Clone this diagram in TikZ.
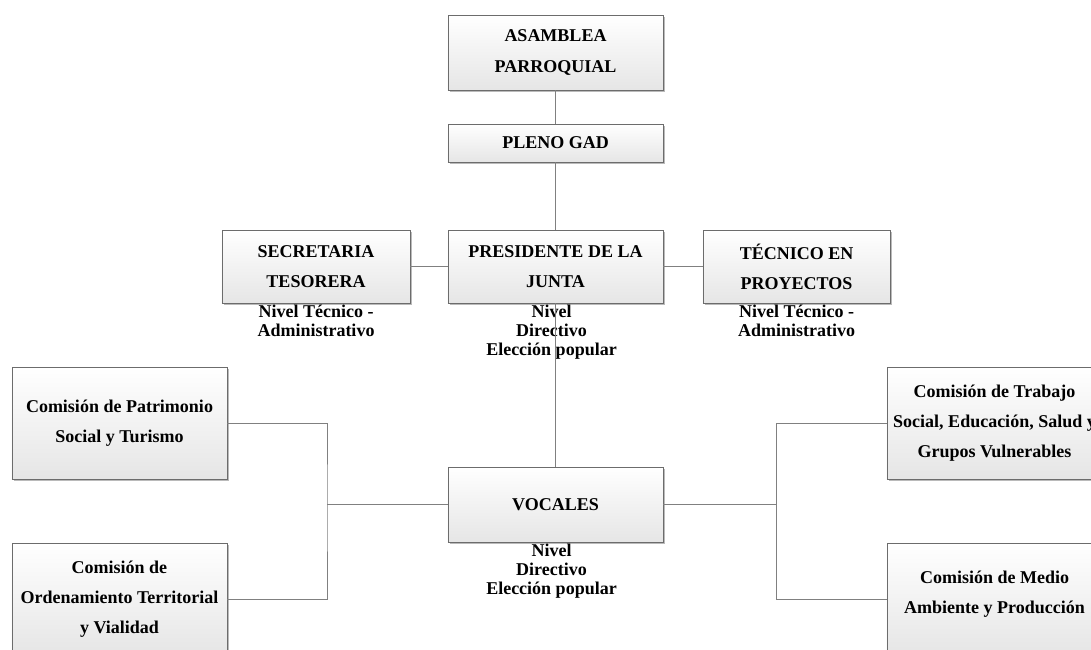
\documentclass[tikz,border=0pt]{standalone}
\usepackage{fontspec}
\setmainfont{Liberation Serif}
\usetikzlibrary{positioning,shadows}

\begin{document}
\begin{tikzpicture}[x=0.025cm, y=-0.025cm,
	box/.style={draw=gray!85!black, top color=white, bottom color=black!10,
		minimum width=5.375cm, minimum height=1.875cm, align=center, inner sep=2pt,
		font=\fontsize{12.8}{21.5}\selectfont\bfseries,
		drop shadow={shadow xshift=1.3pt, shadow yshift=-1.3pt, fill=black!45, opacity=0.6}},
	lvl/.style={align=center, inner sep=1pt, font=\fontsize{12.8}{13.6}\selectfont\bfseries},
	con/.style={draw=gray, line width=0.6pt}
]
	\clip (0,0) rectangle (1091,650);

	% Top levels
	\node[box] (asamblea) at (555.5, 52.5) {ASAMBLEA\\PARROQUIAL};
	\node[box, minimum height=0.95cm] (pleno) at (555.5, 143) {PLENO GAD};

	% Directive level
	\node[box, minimum width=4.7cm, minimum height=1.825cm] (secretaria) at (316, 266.5)
		{SECRETARIA\\TESORERA};
	\node[box, minimum height=1.825cm] (presidente) at (555.5, 266.5)
		{PRESIDENTE DE LA\\JUNTA};
	\node[box, minimum width=4.675cm, minimum height=1.825cm] (tecnico) at (796.5, 266.5)
		{TÉCNICO EN\\PROYECTOS};

	\node[lvl, anchor=north] (secnivel) at (secretaria.south) {Nivel Técnico -\\Administrativo};
	\node[lvl, anchor=north] (presnivel) at ([xshift=-0.1cm]presidente.south)
		{Nivel\\Directivo\\Elección popular};
	\node[lvl, anchor=north] (tecnivel) at (tecnico.south) {Nivel Técnico -\\Administrativo};

	% Vocales
	\node[box] (vocales) at (555.5, 504.5) {VOCALES};
	\node[lvl, anchor=north] (vocnivel) at ([xshift=-0.1cm]vocales.south)
		{Nivel\\Directivo\\Elección popular};

	% Commissions
	\node[box, minimum height=2.8cm] (patrimonio) at (119.5, 423)
		{Comisión de Patrimonio\\Social y Turismo};
	\node[box, minimum height=2.8cm] (ordenamiento) at (119.5, 599)
		{Comisión de\\Ordenamiento Territorial\\y Vialidad};
	\node[box, minimum height=2.8cm] (trabajo) at (994.5, 423)
		{Comisión de Trabajo\\Social, Educación, Salud y\\Grupos Vulnerables};
	\node[box, minimum height=2.8cm, text depth=10pt] (medio) at (994.5, 599)
		{Comisión de Medio\\Ambiente y Producción};

	\coordinate (lbus) at (327, 504.5);
	\coordinate (rbus) at (776, 504.5);

	% Connectors
	\draw[con] (asamblea) -- (pleno);
	\draw[con] (pleno) -- (presidente);
	\draw[con] (secretaria) -- (presidente);
	\draw[con] (presidente) -- (tecnico);
	\draw[con] (presidente) -- (vocales);
	\draw[con] (vocales.west) -- (lbus);
	\draw[con] (patrimonio.east) -| (lbus) |- (ordenamiento.east);
	\draw[con] (vocales.east) -- (rbus);
	\draw[con] (trabajo.west) -| (rbus) |- (medio.west);
\end{tikzpicture}
\end{document}
